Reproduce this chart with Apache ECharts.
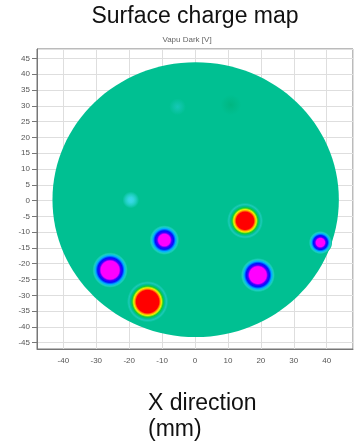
<!DOCTYPE html>
<html>
<head>
<meta charset="utf-8">
<script src="https://cdn.jsdelivr.net/npm/echarts@6/dist/echarts.min.js"></script>
<style>
html,body{margin:0;padding:0;background:#fff;}
#chart{width:357px;height:447px;}
</style>
</head>
<body>
<div id="chart"></div>
<script>
// Axis ranges (mm)
var xRange = [-48, 48];
var yRange = [-47, 48];
// Wafer disc: center x, center y, radius (mm)
var discX = [0.2];
var discY = [0.3];
var discR = [43.5];
// Charge spots
var spotX    = [15.2, -14.4, -25.8, -9.3, 19.1, 38.1, -19.5, -5.3, 10.9];
var spotY    = [-6.4, -32.0, -22.0, -12.5, -23.6, -13.3, 0.2, 29.7, 30.3];
var spotCore = [2.7, 3.5, 2.8, 1.8, 2.6, 1.3, 0.8, 0.5, 0.5];
var spotOuter= [5.6, 6.4, 5.5, 4.6, 5.3, 3.6, 2.6, 2.6, 3.2];
var spotKind = ['pos','pos','neg','neg','neg','neg','cyan','faint','green'];

var DISC = '#00c092';
var FONT = '"Liberation Sans", Arial, sans-serif';

function gradFor(kind, k) {
  var s = function (f) { return k + (1 - k) * f; };
  var stops;
  if (kind === 'pos') {
    stops = [[0,'#ff0000'],[k,'#ff0000'],[s(0.14),'#ff9000'],[s(0.27),'#f2f200'],[s(0.45),'#10cc30'],[s(0.62),DISC],[s(0.8),'#1ccab8'],[1,DISC]];
  } else if (kind === 'neg') {
    stops = [[0,'#ff00ff'],[k,'#ff00ff'],[s(0.18),'#4000ff'],[s(0.38),'#0010ff'],[s(0.62),'#00b0ff'],[s(0.82),'#1ccec0'],[1,DISC]];
  } else if (kind === 'cyan') {
    stops = [[0,'#3ad8ec'],[k,'#34d6e0'],[s(0.5),'#1ccebe'],[1,DISC]];
  } else if (kind === 'faint') {
    stops = [[0,'#14c8b8'],[k,'#12c6b0'],[1,DISC]];
  } else {
    stops = [[0,'#00b680'],[k,'#00b884'],[1,DISC]];
  }
  return {type:'radial', x:0.5, y:0.5, r:0.5, colorStops: stops.map(function(p){return {offset:p[0], color:p[1]};})};
}

var discData = discX.map(function(x,i){ return [x, discY[i], discR[i]]; });
var spotData = spotX.map(function(x,i){ return [x, spotY[i], spotCore[i], spotOuter[i], i]; });

var chart = echarts.init(document.getElementById('chart'), null, {renderer:'canvas'});
chart.setOption({
  animation: false,
  backgroundColor: '#fff',
  grid: {left: 37, top: 49, right: 4, bottom: 98, show: true, borderColor: '#777', borderWidth: 1, backgroundColor: 'transparent'},
  xAxis: {
    type: 'value', min: xRange[0], max: xRange[1], splitNumber: 10,
    axisLine: {show: true, onZero: false, lineStyle: {color: '#777'}},
    axisTick: {show: false},
    axisLabel: {fontSize: 8, color: '#555', margin: 8, fontFamily: FONT, showMinLabel: false, showMaxLabel: false},
    splitLine: {show: true, lineStyle: {color: '#dedede', width: 1}}
  },
  yAxis: {
    type: 'value', min: yRange[0], max: yRange[1], splitNumber: 19,
    axisLine: {show: true, onZero: false, lineStyle: {color: '#777'}},
    axisTick: {show: true, length: 5, lineStyle: {color: '#777'}},
    axisLabel: {fontSize: 8, color: '#555', margin: 7, fontFamily: FONT, showMinLabel: false, showMaxLabel: false},
    splitLine: {show: true, lineStyle: {color: '#dedede', width: 1}}
  },
  graphic: [
    {type:'text', x: 195, y: 17, style:{text:'Surface charge map', font:'23px ' + FONT, fill:'#111', textAlign:'center', textVerticalAlign:'middle'}},
    {type:'text', x: 187, y: 40, style:{text:'Vapu Dark [V]', font:'8px ' + FONT, fill:'#666', textAlign:'center', textVerticalAlign:'middle'}},
    {type:'text', x: 148, y: 404, style:{text:'X direction', font:'23px ' + FONT, fill:'#111', textAlign:'left', textVerticalAlign:'middle'}},
    {type:'text', x: 148, y: 430, style:{text:'(mm)', font:'23px ' + FONT, fill:'#111', textAlign:'left', textVerticalAlign:'middle'}}
  ],
  series: [
    {
      type: 'custom', coordinateSystem: 'cartesian2d', clip: true, silent: true,
      data: discData,
      renderItem: function (params, api) {
        var c = api.coord([api.value(0), api.value(1)]);
        var r = api.value(2);
        var sz = api.size([r, r]);
        return {type:'ellipse', shape:{cx:c[0], cy:c[1], rx:sz[0], ry:sz[1]}, style:{fill: DISC}};
      }
    },
    {
      type: 'custom', coordinateSystem: 'cartesian2d', clip: true, silent: true,
      data: spotData,
      renderItem: function (params, api) {
        var c = api.coord([api.value(0), api.value(1)]);
        var core = api.value(2), outer = api.value(3), idx = api.value(4);
        var sz = api.size([outer, outer]);
        var r = (sz[0] + sz[1]) / 2;
        return {type:'circle', shape:{cx:c[0], cy:c[1], r:r}, style:{fill: gradFor(spotKind[idx], core / outer)}};
      }
    }
  ]
});
</script>
</body>
</html>
